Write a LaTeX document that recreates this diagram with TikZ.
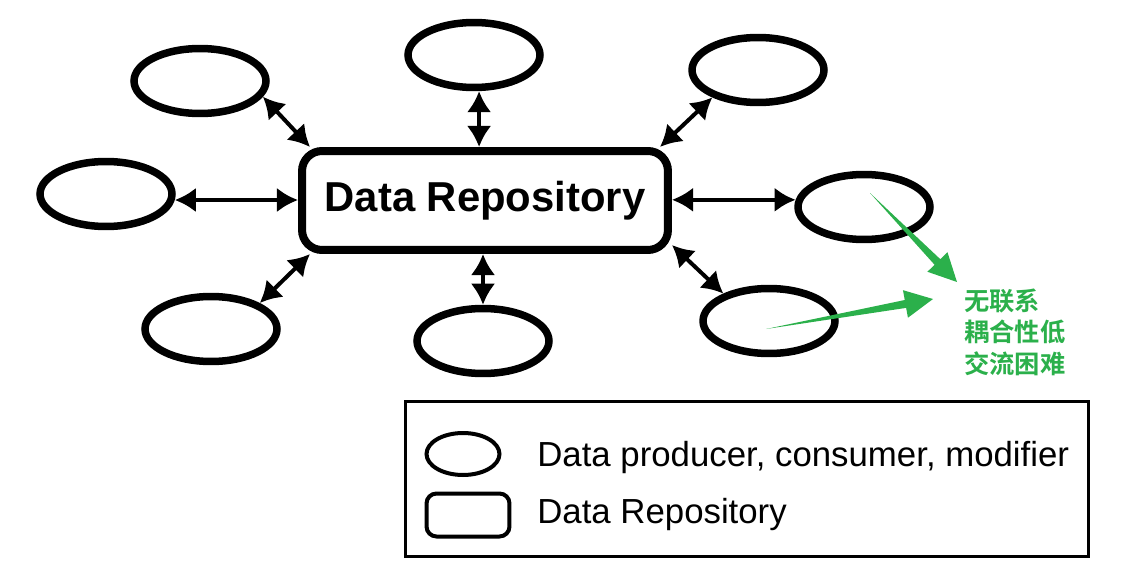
\documentclass[tikz,border=0pt]{standalone}
\usepackage{fontspec}
\setmainfont{Liberation Sans}
\newfontfamily\cjk{Noto Sans CJK SC}[BoldFont={Noto Sans CJK SC Bold}]
\usepackage{tikz}
\usetikzlibrary{arrows.meta}
\usetikzlibrary{calc}
\usetikzlibrary{shapes.geometric}
\tikzset{>={Latex[length=12pt,width=14pt]}}
\definecolor{hintgreen}{RGB}{43,176,75}
\tikzset{
  blob/.style={ellipse, draw, line width=0.15cm, minimum width=2.64cm, minimum height=1.3cm, inner sep=0pt},
  repobox/.style={rectangle, draw, line width=0.16cm, rounded corners=0.4cm, minimum width=7.32cm, minimum height=1.98cm, inner sep=0pt, font=\bfseries\fontsize{23.8pt}{28pt}\selectfont},
  link/.style={<->, line width=0.08cm},
  legblob/.style={ellipse, draw, line width=0.08cm, minimum width=1.46cm, minimum height=0.84cm, inner sep=0pt},
  legbox/.style={rectangle, draw, line width=0.08cm, rounded corners=0.2cm, minimum width=1.66cm, minimum height=0.86cm, inner sep=0pt},
  legtext/.style={anchor=west, inner sep=0pt, font=\fontsize{19.8pt}{23pt}\selectfont}
}
\newcommand\greenarrow[2]{%
  \coordinate (hb) at ($(#2)!0.56cm!(#1)$);
  \fill[hintgreen] (#1) -- ($(hb)!0.08cm!90:(#2)$) -- ($(hb)!0.28cm!90:(#2)$) -- (#2)
    -- ($(hb)!0.28cm!-90:(#2)$) -- ($(hb)!0.08cm!-90:(#2)$) -- cycle;}

\begin{document}
\begin{tikzpicture}[x=0.02cm, y=-0.02cm]
  \useasboundingbox (0,0) rectangle (1143,568);
  \node [repobox] (repo) at (485,200.5) {Data Repository};
  \node [blob] (e1) at (200,81) {};
  \node [blob] (e2) at (474,55) {};
  \node [blob] (e3) at (758,70) {};
  \node [blob] (e4) at (106,194) {};
  \node [blob] (e5) at (864,207) {};
  \node [blob] (e6) at (211,329) {};
  \node [blob] (e7) at (483,341) {};
  \node [blob] (e8) at (769,321) {};

  \draw [link] (e1.-14) -- ([xshift=0.24cm]repo.north west);
  \draw [link] (e2.-82) -- (e2.-82 |- repo.north);
  \draw [link] (e3.-149) -- ([xshift=-0.24cm]repo.north east);
  \draw [link] (e4.-5) -- (e4.-5 -| repo.west);
  \draw [link] (e5.174 -| repo.east) -- (e5.174);
  \draw [link] (e6.28) -- ([xshift=0.24cm]repo.south west);
  \draw [link] (e7.north |- repo.south) -- (e7.north);
  \draw [link] ([yshift=0.18cm]repo.south east) -- (e8.149);

  \node [anchor=west, align=left, inner sep=0pt, text=hintgreen,
    font=\cjk\bfseries\fontsize{14.4pt}{17.9pt}\selectfont] (note) at (964,332)
    {无联系\\耦合性低\\交流困难};
  \coordinate (g1s) at (870,193);
  \coordinate (g1t) at (957,282);
  \coordinate (g2s) at (766,329);
  \coordinate (g2t) at (933,299);
  \greenarrow{g1s}{g1t}
  \greenarrow{g2s}{g2t}

  \draw [line width=0.06cm] (405.5,401.5) rectangle (1088.5,556.5);
  \node [legblob] (lblob) at (463,454) {};
  \node [legbox] (lbox) at (468,515) {};
  \node [legtext] (ltext1) at (537,457) {Data producer, consumer, modifier};
  \node [legtext] (ltext2) at (537,515) {Data Repository};
\end{tikzpicture}
\end{document}
